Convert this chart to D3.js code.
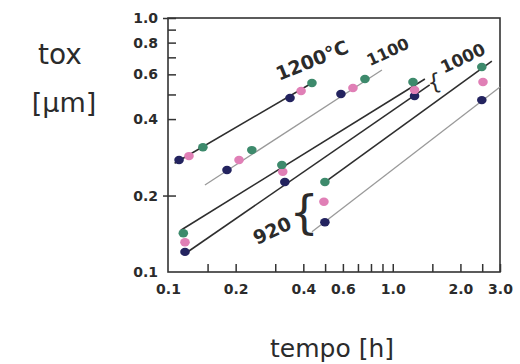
<!DOCTYPE html>
<html>
<head>
<meta charset="utf-8">
<script src="https://cdn.jsdelivr.net/npm/d3@7/dist/d3.min.js"></script>
<style>
  body { margin: 0; background: #fff; }
  text { font-family: "DejaVu Sans", sans-serif; fill: #2b2b2b; }
</style>
</head>
<body>
<div id="chart"></div>
<script>
// oxide thickness [um] vs time [h], log-log, dots
// each group: navy / pink / green dots, plus the drawn fit lines
const groups = ['1200', '1100', '1000', '920'];

const navyPts = [
  [0.112, 0.276], [0.349, 0.484],   // 1200
  [0.183, 0.252], [0.588, 0.502],   // 1100
  [0.119, 0.120], [0.331, 0.226], [1.25, 0.493],  // 1000
  [0.499, 0.157], [2.49, 0.475]     // 920
];
const pinkPts = [
  [0.124, 0.286], [0.391, 0.516],
  [0.207, 0.276], [0.665, 0.530],
  [0.119, 0.131], [0.324, 0.248], [1.25, 0.521],
  [0.494, 0.189], [2.52, 0.560]
];
const greenPts = [
  [0.143, 0.310], [0.437, 0.555],
  [0.236, 0.302], [0.752, 0.575],
  [0.117, 0.142], [0.321, 0.264], [1.23, 0.560],
  [0.499, 0.226], [2.49, 0.641]
];

// fit lines: [start, end], dark or light pencil
const fitLines = [
  {pts: [[0.107, 0.268], [0.445, 0.560]], dark: true},   // 1200
  {pts: [[0.146, 0.220], [0.895, 0.624]], dark: false},  // 1100
  {pts: [[0.114, 0.146], [1.39, 0.575]], dark: true},    // 1000 upper
  {pts: [[0.119, 0.118], [1.46, 0.545]], dark: true},    // 1000 lower
  {pts: [[0.499, 0.226], [2.76, 0.677]], dark: true},    // 920 upper
  {pts: [[0.437, 0.144], [3.0, 0.535]], dark: false}     // 920 lower
];

const xTickLabels = [0.1, 0.2, 0.4, 0.6, 1.0, 2.0, 3.0];
const xTickMarks = [0.15, 0.2, 0.3, 0.4, 0.5, 0.6, 0.7, 0.8, 0.9, 1.0, 1.5, 2.0, 2.5, 3.0];
const yTickLabels = [0.1, 0.2, 0.4, 0.6, 0.8, 1.0];
const yTickMarks = [0.2, 0.4, 0.5, 0.6, 0.7, 0.8, 0.9, 1.0];

// temperature notes, placed in data units
const notes = [
  {text: '1200°C', t: 0.437, v: 0.683, rot: -22, size: 19},
  {text: '1100', t: 0.952, v: 0.735, rot: -25, size: 16},
  {text: '1000', t: 2.05, v: 0.696, rot: -25, size: 17},
  {text: '{', t: 1.53, v: 0.56, rot: -10, size: 22},
  {text: '920', t: 0.290, v: 0.146, rot: -25, size: 19},
  {text: '{', t: 0.403, v: 0.172, rot: 0, size: 46}
];

const width = 520, height = 364;
const margin = {top: 18, right: 20, bottom: 92, left: 168};

const svg = d3.select('#chart')
  .append('svg')
  .attr('width', width)
  .attr('height', height);

const x = d3.scaleLog()
  .domain([0.1, 3.0])
  .range([margin.left, width - margin.right]);

const y = d3.scaleLog()
  .domain([0.1, 1.0])
  .range([height - margin.bottom, margin.top]);

const fmt = d3.format('.1f');

// frame
svg.append('rect')
  .attr('x', x(0.1))
  .attr('y', y(1.0))
  .attr('width', x(3.0) - x(0.1))
  .attr('height', y(0.1) - y(1.0))
  .attr('fill', 'none')
  .attr('stroke', '#333')
  .attr('stroke-width', 1.6);

// tick marks (inside the frame)
svg.append('g')
  .attr('transform', `translate(0,${y(0.1)})`)
  .call(d3.axisBottom(x).tickValues(xTickMarks).tickSize(-8).tickFormat(''))
  .call(g => g.select('.domain').remove())
  .call(g => g.selectAll('line').attr('stroke', '#333').attr('stroke-width', 1.5));

svg.append('g')
  .attr('transform', `translate(${x(0.1)},0)`)
  .call(d3.axisLeft(y).tickValues(yTickMarks).tickSize(-8).tickFormat(''))
  .call(g => g.select('.domain').remove())
  .call(g => g.selectAll('line').attr('stroke', '#333').attr('stroke-width', 1.5)
    .attr('x1', d => d === 0.2 || d === 1.0 ? -5 : 0));

// tick labels
svg.append('g')
  .attr('transform', `translate(0,${y(0.1) + 9})`)
  .call(d3.axisBottom(x).tickValues(xTickLabels).tickSize(0).tickFormat(fmt))
  .call(g => g.select('.domain').remove())
  .call(g => g.selectAll('text')
    .style('font-family', '"DejaVu Sans", sans-serif')
    .style('font-size', '14px')
    .style('font-weight', 'bold')
    .attr('fill', '#333'));

svg.append('g')
  .attr('transform', `translate(${x(0.1) - 7},0)`)
  .call(d3.axisLeft(y).tickValues(yTickLabels).tickSize(0).tickFormat(fmt))
  .call(g => g.select('.domain').remove())
  .call(g => g.selectAll('text')
    .style('font-family', '"DejaVu Sans", sans-serif')
    .style('font-size', '14px')
    .style('font-weight', 'bold')
    .attr('fill', '#333'));

// fit lines
const line = d3.line()
  .x(d => x(d[0]))
  .y(d => y(d[1]));

svg.append('g')
  .selectAll('path')
  .data(fitLines)
  .join('path')
  .attr('d', d => line(d.pts))
  .attr('fill', 'none')
  .attr('stroke', d => d.dark ? '#2e2e2e' : '#9a9a9a')
  .attr('stroke-width', d => d.dark ? 1.6 : 1.3);

// dots
const dotSets = [
  {pts: navyPts, color: '#23235f'},
  {pts: pinkPts, color: '#e07fb6'},
  {pts: greenPts, color: '#3d8a6c'}
];

dotSets.forEach(s => {
  svg.append('g')
    .selectAll('ellipse')
    .data(s.pts)
    .join('ellipse')
    .attr('cx', d => x(d[0]))
    .attr('cy', d => y(d[1]))
    .attr('rx', 4.8)
    .attr('ry', 4.2)
    .attr('fill', s.color);
});

// temperature notes
svg.append('g')
  .selectAll('text')
  .data(notes)
  .join('text')
  .attr('transform', d => `translate(${x(d.t)},${y(d.v)}) rotate(${d.rot})`)
  .attr('text-anchor', 'middle')
  .attr('dominant-baseline', 'central')
  .style('font-size', d => d.size + 'px')
  .style('font-weight', d => d.text === '{' ? 'normal' : 'bold')
  .text(d => d.text);

// axis titles
svg.append('text')
  .attr('x', 60)
  .attr('y', 64)
  .attr('text-anchor', 'middle')
  .style('font-size', '28px')
  .text('tox');

svg.append('text')
  .attr('x', 64)
  .attr('y', 112)
  .attr('text-anchor', 'middle')
  .style('font-size', '27px')
  .text('[µm]');

svg.append('text')
  .attr('x', 332)
  .attr('y', 357)
  .attr('text-anchor', 'middle')
  .style('font-size', '25px')
  .text('tempo [h]');
</script>
</body>
</html>
